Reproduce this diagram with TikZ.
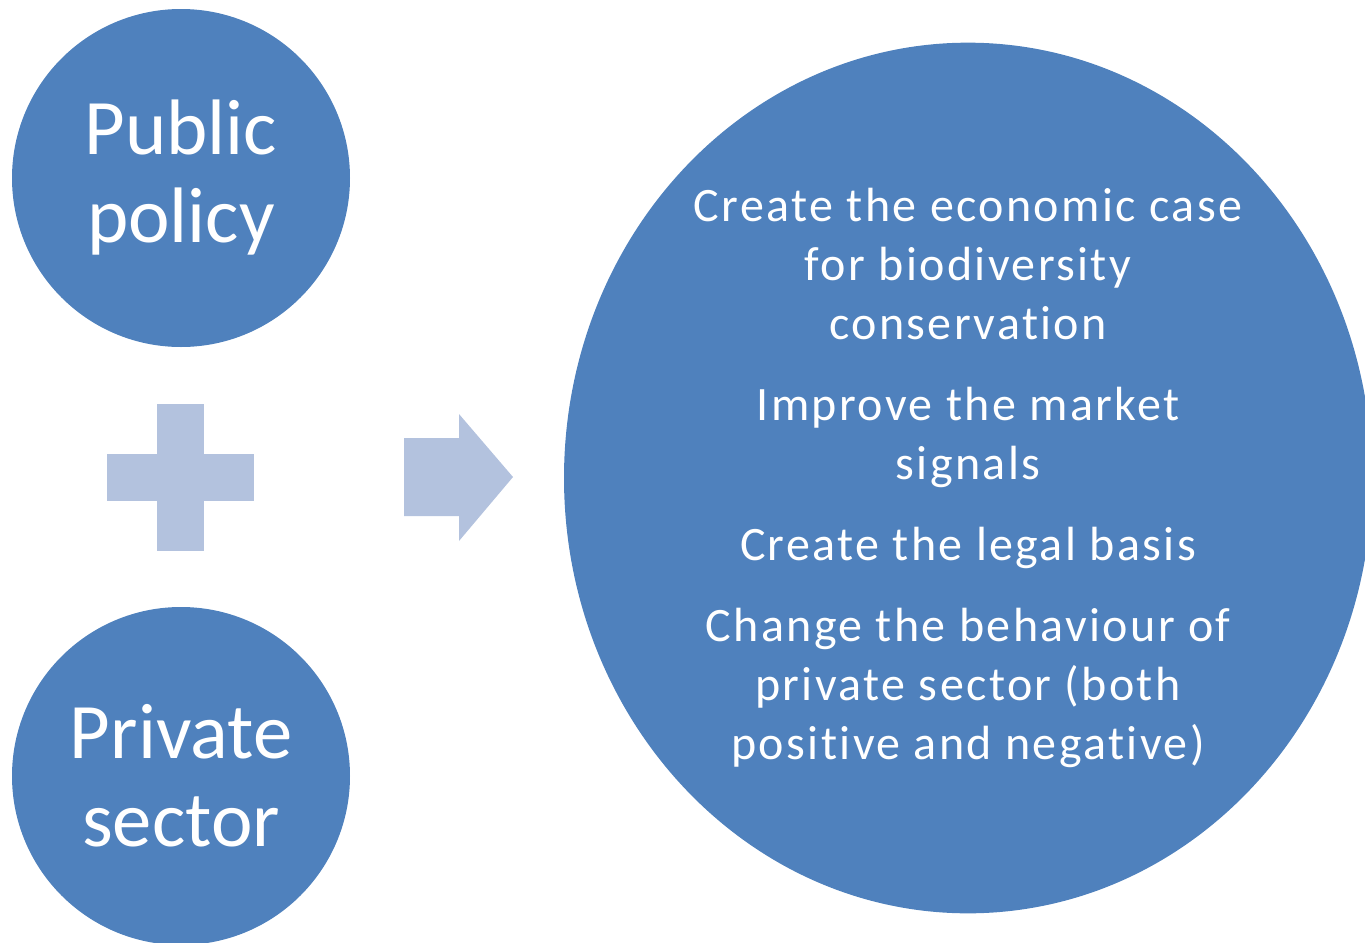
\documentclass[tikz,border=0pt]{standalone}
\usepackage{fontspec}
\setmainfont{Carlito}[Ligatures=NoCommon]
\newfontfamily\goalfont{Carlito}[LetterSpace=5,Ligatures=NoCommon]
\usetikzlibrary{shapes.geometric}
\definecolor{bubbleblue}{HTML}{4F81BD}
\definecolor{signblue}{HTML}{B3C2DE}

\begin{document}
\begin{tikzpicture}[x=0.75pt,y=-0.75pt,
  bubble/.style={fill=bubbleblue, text=white, inner sep=0pt, align=center},
  sign/.style={fill=signblue}]
\useasboundingbox (0,0) rectangle (1365,943);
\clip (0,0) rectangle (1365,943);

\path (181,178) node (pub) [bubble, shape=circle, minimum size=253.5pt,
  font=\fontsize{59pt}{66pt}\selectfont] {Public\\policy};
\path (181,776) node (priv) [bubble, shape=circle, minimum size=253.5pt,
  font=\fontsize{59pt}{66pt}\selectfont] {Private\\sector};
\path (968,478) node (goals) [bubble, shape=ellipse, minimum width=606pt, minimum height=653pt,
  font=\goalfont\fontsize{36pt}{44.25pt}\selectfont]
  {Create the economic case\\for biodiversity\\conservation\\[16.5pt]
   Improve the market\\signals\\[16.5pt]
   Create the legal basis\\[16.5pt]
   Change the behaviour of\\private sector (both\\positive and negative)};

% plus sign
\fill [sign] (107,454) rectangle (254,501);
\fill [sign] (157,404) rectangle (204,551);
% arrow
\fill [sign] (404,438) -- (459,438) -- (459,414) -- (513,477) -- (459,541)
  -- (459,516) -- (404,516) -- cycle;

\end{tikzpicture}
\end{document}
